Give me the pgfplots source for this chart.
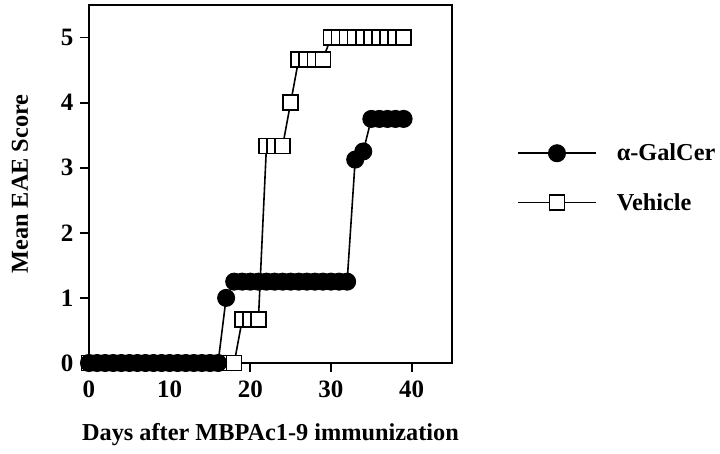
\documentclass[border=0pt]{standalone}
\usepackage{pgfplots}
\pgfplotsset{compat=1.18}
\usepackage{pgfplotstable}
\usepackage{fontspec}
\setmainfont{Liberation Serif}

% alpha-GalCer group
\pgfplotstableread{
day score
0 0
1 0
2 0
3 0
4 0
5 0
6 0
7 0
8 0
9 0
10 0
11 0
12 0
13 0
14 0
15 0
16 0
17 1
18 1.25
19 1.25
20 1.25
21 1.25
22 1.25
23 1.25
24 1.25
25 1.25
26 1.25
27 1.25
28 1.25
29 1.25
30 1.25
31 1.25
32 1.25
33 3.125
34 3.25
35 3.75
36 3.75
37 3.75
38 3.75
39 3.75
}\galcer

% vehicle group
\pgfplotstableread{
day score
0 0
1 0
2 0
3 0
4 0
5 0
6 0
7 0
8 0
9 0
10 0
11 0
12 0
13 0
14 0
15 0
16 0
17 0
18 0
19 0.667
20 0.667
21 0.667
22 3.333
23 3.333
24 3.333
25 4
26 4.667
27 4.667
28 4.667
29 4.667
30 5
31 5
32 5
33 5
34 5
35 5
36 5
37 5
38 5
39 5
}\vehicle

\begin{document}
\begin{tikzpicture}
\path[use as bounding box] (-89pt,-90pt) rectangle (631pt,363pt);
\begin{axis}[
    anchor=south west, at={(0pt,0pt)},
    width=363pt, height=358pt, scale only axis,
    xmin=0, xmax=45, ymin=0, ymax=5.5,
    clip=false,
    axis line style={line width=1.8pt},
    xtick={0,10,20,30,40}, ytick={0,1,2,3,4,5},
    xtick pos=bottom, ytick pos=left,
    tick align=outside, major tick length=9pt,
    tick style={line width=1.8pt, black},
    /pgf/number format/assume math mode=true,
    tick label style={font=\fontsize{25}{25}\selectfont\bfseries},
    xticklabel style={yshift=-5pt},
    yticklabel style={xshift=-3pt},
    xlabel={Days after MBPAc1-9 immunization},
    ylabel={Mean EAE Score},
    every axis x label/.style={at={(axis description cs:0.5,0)}, yshift=-72pt, anchor=center,
        font=\fontsize{24.3}{25}\selectfont\bfseries},
    every axis y label/.style={at={(axis description cs:0,0.5)}, xshift=-69pt, rotate=90, anchor=center,
        font=\fontsize{24.3}{25}\selectfont\bfseries},
    legend image code/.code={\draw[mark repeat=2, mark phase=2] plot coordinates {(0pt,0pt) (39pt,0pt) (78pt,0pt)};},
    legend style={draw=none, fill=none, at={(1.179,0.517)}, anchor=west,
        font=\fontsize{24.3}{25}\selectfont\bfseries, row sep=27pt, inner sep=0pt,
        /tikz/every odd column/.append style={column sep=18pt}},
    legend cell align=left,
]
\addlegendimage{black, line width=1.6pt, mark=*, mark size=8.5pt, mark options={fill=black, line width=1pt}}
\addlegendentry{α-GalCer}
\addlegendimage{black, line width=1.6pt, mark=square*, mark size=7.5pt, mark options={fill=white, line width=1.6pt}}
\addlegendentry{Vehicle}
\addplot[forget plot, black, line width=1.6pt, mark=square*, mark size=7.5pt, mark options={fill=white, line width=1.6pt}] table[x=day, y=score] {\vehicle};
\addplot[forget plot, black, line width=1.6pt, mark=*, mark size=8.5pt, mark options={fill=black, line width=1pt}] table[x=day, y=score] {\galcer};
\end{axis}
\end{tikzpicture}
\end{document}
